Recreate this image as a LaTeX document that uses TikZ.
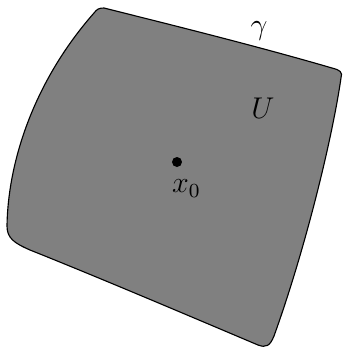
\documentclass[tikz,border=0pt]{standalone}
\usepackage{tikz}
\usetikzlibrary{positioning}

\tikzset{
    region/.style={draw=black, fill=gray, line width=0.45pt},
    base point/.style={circle, fill=black, inner sep=0pt, minimum size=4pt}
}

\begin{document}
\begin{tikzpicture}[x=0.4pt, y=-0.4pt]
  \useasboundingbox (0,0) rectangle (345,349);

  % the domain U with its boundary curve
  \path[region] (104,8) .. controls (180,27) and (260,47) .. (332,68)
    .. controls (340,70) and (343,72) .. (341,78)
    .. controls (332,140) and (305,250) .. (274,336)
    .. controls (270,346) and (266,348) .. (258,345)
    .. controls (180,312) and (100,278) .. (30,250)
    .. controls (14,243) and (7,238) .. (7,226)
    .. controls (8,160) and (35,80) .. (94,13)
    .. controls (97,9) and (99,8) .. (104,8) -- cycle;

  \node[base point] (x0) at (177,162) {};
  \node[below right=2pt and -7pt of x0, font=\large] (x0label) {$x_0$};
  \node[font=\large] (Ulabel) at (263,108) {$U$};
  \node[font=\large] (gammalabel) at (259,31) {$\gamma$};
\end{tikzpicture}
\end{document}
